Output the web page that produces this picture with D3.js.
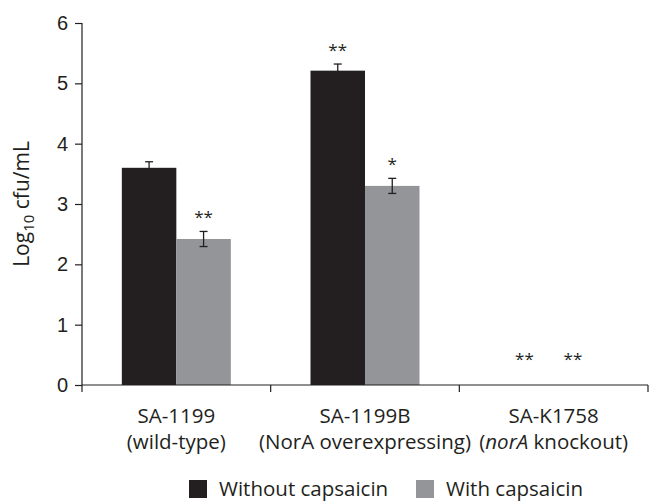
<!DOCTYPE html>
<html>
<head>
<meta charset="utf-8">
<script src="https://cdn.jsdelivr.net/npm/d3@7"></script>
<style>
  body { margin: 0; background: #fff; }
  svg { display: block; font-family: "Open Sans", "Noto Sans", sans-serif; }
  .axis path, .axis line { stroke: #231f20; stroke-width: 1.2; }
  .axis text { font-size: 20px; fill: #231f20; }
</style>
</head>
<body>
<div id="chart"></div>
<script>
// --- data ---
const strains = ['SA-1199', 'SA-1199B', 'SA-K1758'];
const strainNotes = ['(wild-type)', '(NorA overexpressing)', '(norA knockout)'];
const series = ['Without capsaicin', 'With capsaicin'];
const withoutCaps = [3.60, 5.21, 0];
const withCaps = [2.42, 3.30, 0];
const withoutErr = [0.10, 0.11, 0];
const withErr = [0.125, 0.125, 0];
const stars = [['', '**'], ['**', '*'], ['**', '**']];
const yTicks = [0, 1, 2, 3, 4, 5, 6];

// --- setup ---
const width = 650, height = 502;
const margin = {top: 23, right: 2, bottom: 117, left: 82};
const colors = ['#231f20', '#939598'];
const ink = '#231f20';

const svg = d3.select('#chart').append('svg')
    .attr('width', width)
    .attr('height', height);

const x = d3.scaleBand()
    .domain(strains)
    .range([margin.left, width - margin.right])
    .padding(0);

const barW = 54.5;
const xSub = d3.scaleBand()
    .domain(series)
    .range([x.bandwidth() / 2 - barW, x.bandwidth() / 2 + barW]);

const y = d3.scaleLinear()
    .domain([0, 6])
    .range([height - margin.bottom, margin.top]);

const rows = strains.map((s, i) => ({
    strain: s,
    bars: [
        {key: series[0], v: withoutCaps[i], e: withoutErr[i], star: stars[i][0]},
        {key: series[1], v: withCaps[i], e: withErr[i], star: stars[i][1]}
    ]
}));

// --- bars ---
const group = svg.selectAll('g.group')
    .data(rows)
    .join('g')
    .attr('class', 'group')
    .attr('transform', d => `translate(${x(d.strain)},0)`);

group.selectAll('rect')
    .data(d => d.bars)
    .join('rect')
    .attr('x', d => xSub(d.key))
    .attr('width', xSub.bandwidth())
    .attr('y', d => y(d.v))
    .attr('height', d => y(0) - y(d.v))
    .attr('fill', (d, i) => colors[i]);

// error bars (only where there is a bar)
const err = group.selectAll('g.err')
    .data(d => d.bars.filter(b => b.v > 0))
    .join('g')
    .attr('class', 'err')
    .attr('transform', d => `translate(${xSub(d.key) + xSub.bandwidth() / 2},0)`)
    .attr('stroke', ink)
    .attr('stroke-width', 1.3);

err.append('line')
    .attr('y1', d => y(d.v - d.e))
    .attr('y2', d => y(d.v + d.e));
err.append('line')
    .attr('x1', -4).attr('x2', 4)
    .attr('y1', d => y(d.v + d.e)).attr('y2', d => y(d.v + d.e));
err.append('line')
    .attr('x1', -4).attr('x2', 4)
    .attr('y1', d => y(d.v - d.e)).attr('y2', d => y(d.v - d.e));

// significance stars (the empty group's marks sit a little inward)
group.selectAll('text.star')
    .data(d => d.bars.filter(b => b.star))
    .join('text')
    .attr('class', 'star')
    .attr('x', (d, i) => xSub(d.key) + xSub.bandwidth() / 2 + (d.v > 0 ? 0 : (i ? -8 : -2)))
    .attr('y', d => (d.v > 0 ? y(d.v + d.e) - 18 : y(0) - 30) + 10)
    .attr('text-anchor', 'middle')
    .attr('font-size', 17)
    .attr('fill', ink)
    .text(d => d.star);

// --- y axis ---
svg.append('g')
    .attr('class', 'axis')
    .attr('transform', `translate(${margin.left},0)`)
    .call(d3.axisLeft(y).tickValues(yTicks).tickFormat(d3.format('d'))
        .tickSize(7).tickSizeOuter(0).tickPadding(7))
    .call(g => g.select('.domain').attr('d', `M0,${y(6)}V${y(0)}`));

// --- x axis ---
const xAxis = svg.append('g')
    .attr('class', 'axis')
    .attr('transform', `translate(0,${y(0)})`);

xAxis.append('line')
    .attr('x1', x.range()[0]).attr('x2', x.range()[1]);

xAxis.selectAll('line.tick')
    .data(strains.map(s => x(s)).concat([x.range()[1]]))
    .join('line')
    .attr('class', 'tick')
    .attr('x1', d => d).attr('x2', d => d)
    .attr('y1', 0).attr('y2', 7);

const lab = xAxis.selectAll('text.cat')
    .data(strains)
    .join('text')
    .attr('class', 'cat')
    .attr('text-anchor', 'middle')
    .style('font-size', '20.5px')
    .attr('transform', d => `translate(${x(d) + x.bandwidth() / 2},0)`);

lab.append('tspan').attr('x', 0).attr('y', 38).text(d => d);
lab.append('tspan').attr('x', 0).attr('y', 64)
    .each(function(d, i) {
        const note = strainNotes[i];
        const t = d3.select(this);
        const m = note.match(/^\((norA)(.*)$/);
        if (m) {
            t.append('tspan').text('(');
            t.append('tspan').attr('font-style', 'italic').text(m[1]);
            t.append('tspan').text(m[2]);
        } else {
            t.text(note);
        }
    });

// y label
svg.append('text')
    .attr('transform', `translate(29,${(y(0) + y(6)) / 2}) rotate(-90)`)
    .attr('text-anchor', 'middle')
    .attr('font-size', 21)
    .attr('fill', ink)
    .call(t => {
        t.append('tspan').text('Log');
        t.append('tspan').attr('font-size', 15).attr('dy', 5).text('10');
        t.append('tspan').attr('dy', -5).text(' cfu/mL');
    });

// --- legend ---
const legendX = [189, 416];
const legend = svg.append('g')
    .selectAll('g')
    .data(series)
    .join('g')
    .attr('transform', (d, i) => `translate(${legendX[i]},480)`);

legend.append('rect')
    .attr('width', 18).attr('height', 18)
    .attr('fill', (d, i) => colors[i]);

legend.append('text')
    .attr('x', 30).attr('y', 16)
    .attr('font-size', 20.5)
    .attr('fill', ink)
    .text(d => d);
</script>
</body>
</html>
